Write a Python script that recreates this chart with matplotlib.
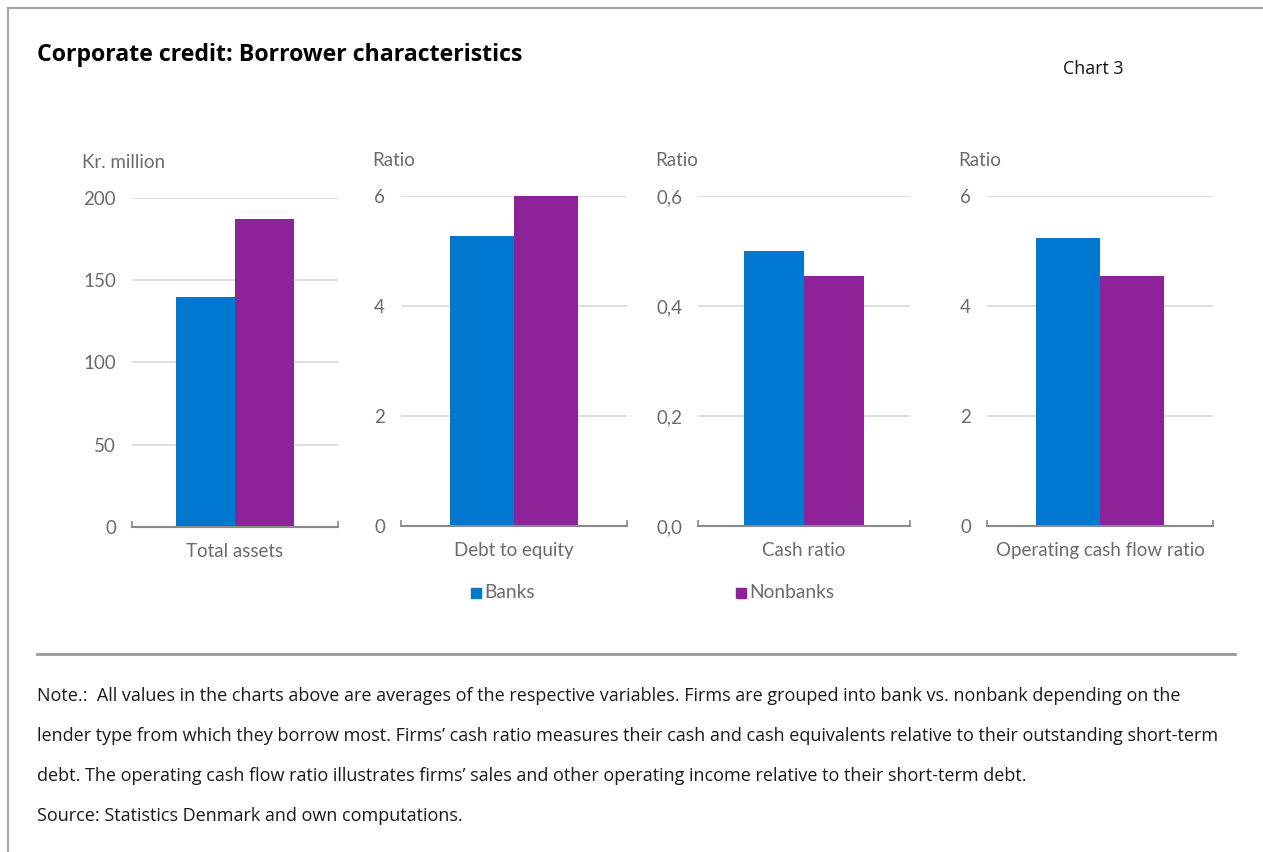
import numpy as np
import matplotlib
matplotlib.use("Agg")
import matplotlib.pyplot as plt
from matplotlib.lines import Line2D
from matplotlib.patches import Rectangle

# data
categories = ["Total assets", "Debt to equity", "Cash ratio", "Operating cash flow ratio"]
series_names = ["Banks", "Nonbanks"]
banks = [140, 5.27, 0.50, 5.24]
nonbanks = [187, 6.0, 0.455, 4.55]
y_units = ["Kr. million", "Ratio", "Ratio", "Ratio"]
y_ticks = [[0, 50, 100, 150, 200], [0, 2, 4, 6], [0.0, 0.2, 0.4, 0.6], [0, 2, 4, 6]]
y_ticklabels = [["0", "50", "100", "150", "200"], ["0", "2", "4", "6"],
                ["0,0", "0,2", "0,4", "0,6"], ["0", "2", "4", "6"]]

BLUE = "#0078d0"
PURPLE = "#8e2299"
GRAY_TXT = "#6b6b6b"
GRID = "#d9d9d9"

W, H = 1263, 852
plt.rcParams["font.family"] = ["Lato", "DejaVu Sans"]
fig = plt.figure(figsize=(W / 100, H / 100), dpi=100)


def px_axes(x0, x1, ytop, ybot):
    return fig.add_axes([x0 / W, (H - ybot) / H, (x1 - x0) / W, (ybot - ytop) / H])


# pixel boxes for the four panels
boxes = [(132, 338, 198, 527), (401, 627, 196, 526), (698, 910, 196, 526), (987, 1213, 196, 526)]
unit_pos = [(82, 163), (372, 161), (655, 161), (958, 161)]

bw = 0.285
for i, (x0, x1, yt, yb) in enumerate(boxes):
    ax = px_axes(x0, x1, yt, yb)
    ax.bar(-bw / 2, banks[i], width=bw, color=BLUE, zorder=3)
    ax.bar(bw / 2, nonbanks[i], width=bw, color=PURPLE, zorder=3)
    ax.set_xlim(-0.5, 0.5)
    ax.set_ylim(y_ticks[i][0], y_ticks[i][-1])
    ax.set_yticks(y_ticks[i])
    ax.set_yticklabels(y_ticklabels[i])
    for t in y_ticks[i][1:]:
        ax.axhline(t, color=GRID, lw=1.2, zorder=1)
    ax.set_xticks([-0.5, 0.5])
    ax.set_xticklabels(["", ""])
    ax.tick_params(axis="x", direction="in", length=4.5, width=1.2, color="#8a8a8a")
    ax.tick_params(axis="y", length=0, pad=11.5, labelsize=13.5, labelcolor=GRAY_TXT)
    ax.set_xlabel(categories[i], fontsize=13.5, color=GRAY_TXT, labelpad=8)
    for s in ["top", "right", "left"]:
        ax.spines[s].set_visible(False)
    ax.spines["bottom"].set_color("#8a8a8a")
    ax.spines["bottom"].set_linewidth(1.5)
    ax.spines["bottom"].set_zorder(4)
    ux, uy = unit_pos[i]
    fig.text(ux / W, 1 - uy / H, y_units[i], ha="left", va="center",
             fontsize=13.5, color=GRAY_TXT)

# legend
leg_items = [(471, BLUE, series_names[0]), (736, PURPLE, series_names[1])]
for lx, col, name in leg_items:
    fig.patches.append(Rectangle((lx / W, 1 - 598 / H), 10 / W, 10 / H,
                                 transform=fig.transFigure, color=col))
    fig.text((lx + 13) / W, 1 - 593 / H, name, ha="left", va="center",
             fontsize=13.8, color=GRAY_TXT)

# title and chart number
fig.text(37 / W, 1 - 55 / H, "Corporate credit: Borrower characteristics",
         ha="left", va="center", fontsize=16.7, fontweight="bold",
         family=["Open Sans", "DejaVu Sans"], color="black")
fig.text(1063 / W, 1 - 69 / H, "Chart 3", ha="left", va="center",
         fontsize=12.8, family=["Open Sans", "DejaVu Sans"], color="#111111")

# frame lines
fig.add_artist(Line2D([8 / W, 1], [1 - 8 / H, 1 - 8 / H], color="#a6a6a6", lw=1.5))
fig.add_artist(Line2D([8 / W, 8 / W], [0, 1 - 8 / H], color="#a6a6a6", lw=1.5))
fig.add_artist(Line2D([37 / W, 1235 / W], [1 - 654 / H, 1 - 654 / H], color="#999999", lw=2))

# notes
notes = [
    "Note.:  All values in the charts above are averages of the respective variables. Firms are grouped into bank vs. nonbank depending on the",
    "lender type from which they borrow most. Firms\u2019 cash ratio measures their cash and cash equivalents relative to their outstanding short-term",
    "debt. The operating cash flow ratio illustrates firms\u2019 sales and other operating income relative to their short-term debt.",
    "Source: Statistics Denmark and own computations.",
]
for k, line in enumerate(notes):
    fig.text(37 / W, 1 - (696 + 40 * k) / H, line, ha="left", va="center",
             fontsize=13, family=["Open Sans", "DejaVu Sans"], color="#1a1a1a")

fig.savefig("out.png", dpi=100)
